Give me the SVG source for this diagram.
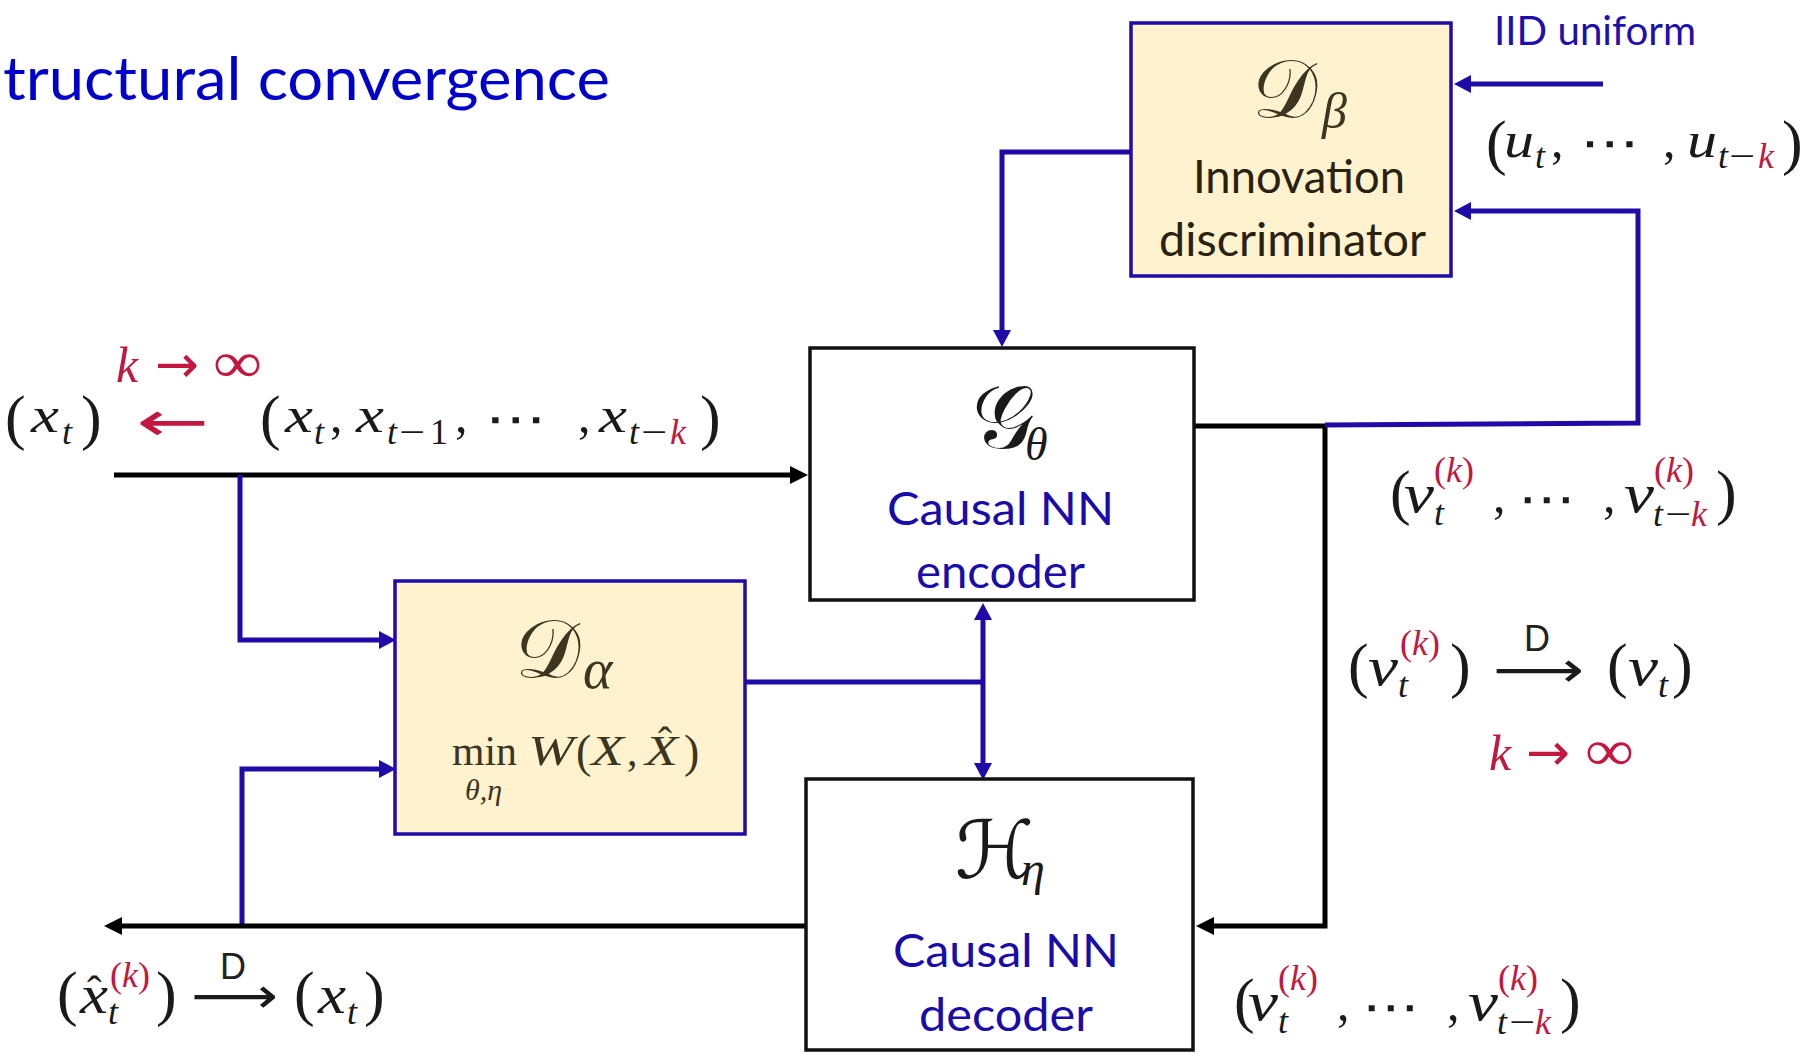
<svg xmlns="http://www.w3.org/2000/svg" width="1806" height="1053" viewBox="0 0 1806 1053">
<style>
.bg{fill:#ffffff}
.cream{fill:#fef2cf;stroke:#1e0ba8;stroke-width:3.5}
.wbox{fill:#ffffff;stroke:#111111;stroke-width:3.5}
.bl{fill:none;stroke:#1e0ba8;stroke-width:5;stroke-linejoin:miter;stroke-linecap:butt}
.kl{fill:none;stroke:#000000;stroke-width:5;stroke-linejoin:miter;stroke-linecap:butt}
.bh{fill:#1e0ba8}
.kh{fill:#000000}
.sans{font-family:Lato,"Liberation Sans",sans-serif}
.title{font-size:60px;fill:#0000cc}
.lab{font-size:46px;fill:#1a0caa}
.dark{font-size:46px;fill:#2a2210}
text.m{font-family:"Liberation Serif","DejaVu Serif",serif;fill:#1a1a1a}
.i{font-style:italic}
text.sym{font-family:"DejaVu Sans",sans-serif;fill:#1a1a1a}
.scr{font-family:"DejaVu Serif","DejaVu Sans","Noto Sans",serif}
text.brown{fill:#3d3520}
text.big{font-family:"Liberation Serif","DejaVu Serif",serif;font-size:62px}
text.n{font-family:"Liberation Serif","DejaVu Serif",serif;font-size:50px}
text.s{font-family:"Liberation Serif","DejaVu Serif",serif;font-size:36px}
.D{font-family:"Liberation Sans",sans-serif;font-size:36px;fill:#222}
text.red{fill:#c2183f}
</style>
<rect class="bg" x="0" y="0" width="1806" height="1053"/>
<text class="sans title" x="3" y="100" textLength="607" lengthAdjust="spacingAndGlyphs">tructural convergence</text>

<g id="connectors">
  <path class="kl" d="M114,475 H792"/>
  <polygon class="kh" points="808,475 790,466 790,484"/>
  <path class="bl" d="M240,475 V640 H381"/>
  <polygon class="bh" points="396,640 379,631 379,649"/>
  <path class="bl" d="M242,924 V769 H381"/>
  <polygon class="bh" points="396,769 379,760 379,778"/>
  <path class="kl" d="M806,926 H120"/>
  <polygon class="kh" points="104,926 122,917 122,935"/>
  <path class="bl" d="M745,682 H983"/>
  <path class="bl" d="M983,618 V765"/>
  <polygon class="bh" points="983,603 974,620 992,620"/>
  <polygon class="bh" points="983,780 974,763 992,763"/>
  <path class="kl" d="M1194,426 H1325 V926 H1212"/>
  <polygon class="kh" points="1196,926 1214,917 1214,935"/>
  <path class="bl" d="M1325,425 L1638,423 V211 H1470"/>
  <polygon class="bh" points="1454,211 1471,202 1471,220"/>
  <path class="bl" d="M1603,84 H1470"/>
  <polygon class="bh" points="1454,84 1471,75 1471,93"/>
  <path class="bl" d="M1131,152 H1002 V332"/>
  <polygon class="bh" points="1002,347 993,330 1011,330"/>
</g>

<g id="node-dbeta">
  <rect class="cream" x="1131" y="23" width="320" height="253"/>
  <text class="scr brown" x="1252" y="117" font-size="82" fill="#3d3520">𝒟</text>
  <text class="m i brown" x="1322" y="128" font-size="50">β</text>
  <text class="sans dark" x="1193" y="193" textLength="212" lengthAdjust="spacingAndGlyphs">Innovation</text>
  <text class="sans dark" x="1159" y="256" textLength="267" lengthAdjust="spacingAndGlyphs">discriminator</text>
</g>

<g id="node-encoder">
  <rect class="wbox" x="810" y="348" width="384" height="252"/>
  <text class="scr" x="972" y="448" font-size="88" fill="#1a1a1a">𝒢</text>
  <text class="m i" x="1025" y="460" font-size="46">θ</text>
  <text class="sans lab" x="887" y="525" textLength="227" lengthAdjust="spacingAndGlyphs">Causal NN</text>
  <text class="sans lab" x="916" y="588" textLength="169" lengthAdjust="spacingAndGlyphs">encoder</text>
</g>

<g id="node-dalpha">
  <rect class="cream" x="395" y="581" width="350" height="253"/>
  <text class="scr brown" x="515" y="677" font-size="82" fill="#3d3520">𝒟</text>
  <text class="m i brown" x="583" y="688" font-size="56">α</text>
  <text class="m brown" x="452" y="765" font-size="42" textLength="65" lengthAdjust="spacingAndGlyphs">min</text>
  <text class="m i brown" x="528" y="765" font-size="42" textLength="46" lengthAdjust="spacingAndGlyphs">W</text>
  <text class="m brown" x="576" y="767" font-size="46">(</text>
  <text class="m i brown" x="591" y="765" font-size="42" textLength="33" lengthAdjust="spacingAndGlyphs">X</text>
  <text class="m brown" x="627" y="765" font-size="42">,</text>
  <text class="m i brown" x="645" y="765" font-size="42" textLength="33" lengthAdjust="spacingAndGlyphs">X</text>
  <text class="m brown" x="658" y="756" font-size="42">ˆ</text>
  <text class="m brown" x="684" y="767" font-size="46">)</text>
  <text class="m i brown" x="465" y="800" font-size="30">θ,η</text>
</g>

<g id="node-decoder">
  <rect class="wbox" x="806" y="779" width="387" height="271"/>
  <text class="scr" x="955" y="878" font-size="80" fill="#1a1a1a">ℋ</text>
  <text class="m i" x="1021" y="885" font-size="48">η</text>
  <text class="sans lab" x="893" y="967" textLength="226" lengthAdjust="spacingAndGlyphs">Causal NN</text>
  <text class="sans lab" x="919" y="1031" textLength="174" lengthAdjust="spacingAndGlyphs">decoder</text>
</g>

<g id="label-iid">
  <text class="sans" x="1494" y="45" font-size="40" fill="#1e10b0" textLength="202" lengthAdjust="spacingAndGlyphs">IID uniform</text>
</g>

<g id="label-u">
  <text class="m big" x="1486" y="163">(</text>
  <text class="m i n" x="1504" y="157" textLength="30" lengthAdjust="spacingAndGlyphs">u</text>
  <text class="m i s" x="1535" y="168">t</text>
  <text class="m n" x="1551" y="157">,</text>
  <text class="sym" x="1580" y="160" font-size="50" textLength="60" lengthAdjust="spacingAndGlyphs">⋯</text>
  <text class="m n" x="1663" y="157">,</text>
  <text class="m i n" x="1687" y="157" textLength="30" lengthAdjust="spacingAndGlyphs">u</text>
  <text class="m i s" x="1718" y="168">t</text>
  <text class="m s" x="1729" y="168" textLength="26" lengthAdjust="spacingAndGlyphs">−</text>
  <text class="m i s red" x="1758" y="168">k</text>
  <text class="m big" x="1782" y="163">)</text>
</g>

<g id="label-x-left">
  <text class="m i red n" x="116" y="382">k</text>
  <text class="sym red" x="155" y="382" font-size="52" textLength="44" lengthAdjust="spacingAndGlyphs">→</text>
  <text class="m red" x="213" y="382" font-size="58" textLength="49" lengthAdjust="spacingAndGlyphs">∞</text>
  <text class="m big" x="5" y="438">(</text>
  <text class="m i n" x="31" y="432" textLength="28" lengthAdjust="spacingAndGlyphs">x</text>
  <text class="m i s" x="62" y="444">t</text>
  <text class="m big" x="81" y="438">)</text>
  <text class="sym red" x="136" y="441" font-size="56" textLength="73" lengthAdjust="spacingAndGlyphs">←</text>
  <text class="m big" x="260" y="438">(</text>
  <text class="m i n" x="285" y="432" textLength="28" lengthAdjust="spacingAndGlyphs">x</text>
  <text class="m i s" x="314" y="444">t</text>
  <text class="m n" x="330" y="432">,</text>
  <text class="m i n" x="356" y="432" textLength="28" lengthAdjust="spacingAndGlyphs">x</text>
  <text class="m i s" x="387" y="444">t</text>
  <text class="m s" x="399" y="444" textLength="26" lengthAdjust="spacingAndGlyphs">−</text>
  <text class="m s" x="430" y="444">1</text>
  <text class="m n" x="455" y="432">,</text>
  <text class="sym" x="485" y="436" font-size="50" textLength="62" lengthAdjust="spacingAndGlyphs">⋯</text>
  <text class="m n" x="578" y="432">,</text>
  <text class="m i n" x="599" y="432" textLength="28" lengthAdjust="spacingAndGlyphs">x</text>
  <text class="m i s" x="629" y="444">t</text>
  <text class="m s" x="641" y="444" textLength="26" lengthAdjust="spacingAndGlyphs">−</text>
  <text class="m i s red" x="670" y="444">k</text>
  <text class="m big" x="700" y="438">)</text>
</g>

<g id="label-v-right" transform="translate(1390,512)">
  <text class="m big" x="0" y="1">(</text>
  <text class="m i" x="14" y="0" font-size="54" textLength="30" lengthAdjust="spacingAndGlyphs">v</text>
  <text class="m i s" x="44" y="13">t</text>
  <text class="m s red" x="44" y="-30">(<tspan class="i">k</tspan>)</text>
  <text class="m n" x="103" y="0">,</text>
  <text class="sym" x="128" y="4" font-size="50" textLength="58" lengthAdjust="spacingAndGlyphs">⋯</text>
  <text class="m n" x="213" y="0">,</text>
  <text class="m i" x="234" y="0" font-size="54" textLength="30" lengthAdjust="spacingAndGlyphs">v</text>
  <text class="m s red" x="264" y="-30">(<tspan class="i">k</tspan>)</text>
  <text class="m i s" x="263" y="14">t</text>
  <text class="m s" x="275" y="14" textLength="26" lengthAdjust="spacingAndGlyphs">−</text>
  <text class="m i s red" x="301" y="14">k</text>
  <text class="m big" x="326" y="1">)</text>
</g>

<g id="label-v-bottom" transform="translate(1234,1020)">
  <text class="m big" x="0" y="1">(</text>
  <text class="m i" x="14" y="0" font-size="54" textLength="30" lengthAdjust="spacingAndGlyphs">v</text>
  <text class="m i s" x="44" y="13">t</text>
  <text class="m s red" x="44" y="-30">(<tspan class="i">k</tspan>)</text>
  <text class="m n" x="103" y="0">,</text>
  <text class="sym" x="128" y="4" font-size="50" textLength="58" lengthAdjust="spacingAndGlyphs">⋯</text>
  <text class="m n" x="213" y="0">,</text>
  <text class="m i" x="234" y="0" font-size="54" textLength="30" lengthAdjust="spacingAndGlyphs">v</text>
  <text class="m s red" x="264" y="-30">(<tspan class="i">k</tspan>)</text>
  <text class="m i s" x="263" y="14">t</text>
  <text class="m s" x="275" y="14" textLength="26" lengthAdjust="spacingAndGlyphs">−</text>
  <text class="m i s red" x="301" y="14">k</text>
  <text class="m big" x="326" y="1">)</text>
</g>

<g id="label-v-conv">
  <text class="m big" x="1348" y="686">(</text>
  <text class="m i" x="1368" y="685" font-size="54" textLength="30" lengthAdjust="spacingAndGlyphs">v</text>
  <text class="m i s" x="1398" y="697">t</text>
  <text class="m s red" x="1400" y="655">(<tspan class="i">k</tspan>)</text>
  <text class="m big" x="1450" y="686">)</text>
  <text class="sym" x="1493" y="687" font-size="50" textLength="91" lengthAdjust="spacingAndGlyphs">⟶</text>
  <text class="D" x="1524" y="651">D</text>
  <text class="m big" x="1607" y="686">(</text>
  <text class="m i" x="1628" y="685" font-size="54" textLength="30" lengthAdjust="spacingAndGlyphs">v</text>
  <text class="m i s" x="1658" y="697">t</text>
  <text class="m big" x="1672" y="686">)</text>
  <text class="m i red n" x="1489" y="770">k</text>
  <text class="sym red" x="1526" y="770" font-size="52" textLength="44" lengthAdjust="spacingAndGlyphs">→</text>
  <text class="m red" x="1585" y="770" font-size="58" textLength="49" lengthAdjust="spacingAndGlyphs">∞</text>
</g>

<g id="label-x-conv">
  <text class="m big" x="57" y="1014">(</text>
  <text class="m i" x="80" y="1013" font-size="54" textLength="28" lengthAdjust="spacingAndGlyphs">x</text>
  <text class="m" x="87" y="1006" font-size="44">ˆ</text>
  <text class="m i s" x="108" y="1024">t</text>
  <text class="m s red" x="110" y="987">(<tspan class="i">k</tspan>)</text>
  <text class="m big" x="156" y="1014">)</text>
  <text class="sym" x="191" y="1013" font-size="50" textLength="87" lengthAdjust="spacingAndGlyphs">⟶</text>
  <text class="D" x="220" y="979">D</text>
  <text class="m big" x="294" y="1014">(</text>
  <text class="m i" x="318" y="1013" font-size="54" textLength="28" lengthAdjust="spacingAndGlyphs">x</text>
  <text class="m i s" x="347" y="1024">t</text>
  <text class="m big" x="364" y="1014">)</text>
</g>
</svg>
